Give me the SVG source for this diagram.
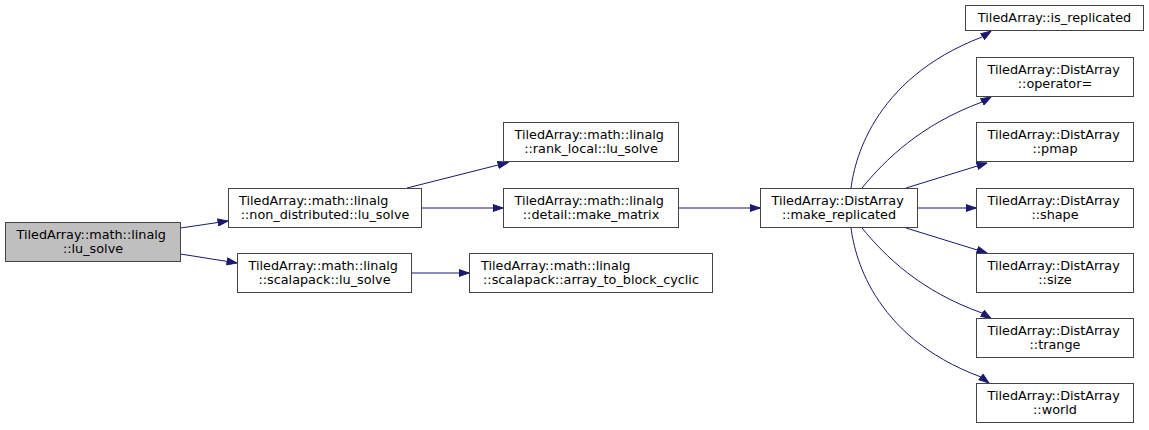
<svg xmlns="http://www.w3.org/2000/svg" width="1149" height="430" viewBox="0 0 1149 430">
<defs>
<style>
.n rect{fill:#ffffff;stroke:#444444;stroke-width:1}
.n.root rect{fill:#bfbfbf}
.n text{font-family:"DejaVu Sans",sans-serif;font-size:12.8px;fill:#000000;text-anchor:middle}
.n text.l1{text-anchor:start}
.e path{fill:none;stroke:#191970;stroke-width:1;marker-end:url(#ah)}
</style>
<marker id="ah" markerUnits="userSpaceOnUse" markerWidth="11" markerHeight="8" viewBox="0 0 11 8" refX="10.5" refY="4" orient="auto">
<path d="M0.5,0.5 L10.5,4 L0.5,7.5 z" fill="#191970" stroke="#191970" stroke-width="1"/>
</marker>
</defs>
<rect width="1149" height="430" fill="#ffffff"/>
<g id="edges" class="e">
<path d="M180.5,228 L228,221"/>
<path d="M180.5,254 L237,263"/>
<path d="M407,188 L508,162.5"/>
<path d="M421.5,208 L503,208"/>
<path d="M411.5,273 L469,273"/>
<path d="M678.5,208 L760,208"/>
<path d="M917.5,208 L976,208"/>
<path d="M906,188 L987,163"/>
<path d="M906,228 L987,253"/>
<path d="M851,188 C854,165 870,80 982,37 L991,31"/>
<path d="M862,188 C885,160 920,125 982,102 L991,97"/>
<path d="M862,228 C885,256 920,291 982,313 L991,318.5"/>
<path d="M851,228 C854,251 870,336 981,377 L989,383"/>
</g>
<g id="lu_solve" class="n root"><rect x="5.5" y="222.5" width="175" height="39"/><text class="l1" x="16.5" y="239">TiledArray::math::linalg</text><text x="93" y="252.5">::lu_solve</text></g>
<g id="nd_lu_solve" class="n"><rect x="228.5" y="188.5" width="193" height="39"/><text class="l1" x="239" y="205">TiledArray::math::linalg</text><text x="325" y="218.5">::non_distributed::lu_solve</text></g>
<g id="sp_lu_solve" class="n"><rect x="237.5" y="253.5" width="174" height="39"/><text class="l1" x="248.5" y="270">TiledArray::math::linalg</text><text x="324.5" y="283.5">::scalapack::lu_solve</text></g>
<g id="rank_local_lu_solve" class="n"><rect x="503.5" y="122.5" width="175" height="39"/><text class="l1" x="514.5" y="139">TiledArray::math::linalg</text><text x="591" y="152.5">::rank_local::lu_solve</text></g>
<g id="make_matrix" class="n"><rect x="503.5" y="188.5" width="175" height="39"/><text class="l1" x="514.5" y="205">TiledArray::math::linalg</text><text x="591" y="218.5">::detail::make_matrix</text></g>
<g id="array_to_block_cyclic" class="n"><rect x="469.5" y="253.5" width="243" height="39"/><text class="l1" x="481" y="270">TiledArray::math::linalg</text><text x="591" y="283.5">::scalapack::array_to_block_cyclic</text></g>
<g id="make_replicated" class="n"><rect x="760.5" y="188.5" width="157" height="39"/><text class="l1" x="771.5" y="205">TiledArray::DistArray</text><text x="839" y="218.5">::make_replicated</text></g>
<g id="is_replicated" class="n"><rect x="965.5" y="5.5" width="178" height="25"/><text x="1054.5" y="22">TiledArray::is_replicated</text></g>
<g id="operator_assign" class="n"><rect x="976.5" y="57.5" width="157" height="39"/><text class="l1" x="987.5" y="74">TiledArray::DistArray</text><text x="1055" y="87.5">::operator=</text></g>
<g id="pmap" class="n"><rect x="976.5" y="122.5" width="157" height="39"/><text class="l1" x="987.5" y="139">TiledArray::DistArray</text><text x="1055" y="152.5">::pmap</text></g>
<g id="shape" class="n"><rect x="976.5" y="188.5" width="157" height="39"/><text class="l1" x="987.5" y="205">TiledArray::DistArray</text><text x="1055" y="218.5">::shape</text></g>
<g id="size" class="n"><rect x="976.5" y="253.5" width="157" height="39"/><text class="l1" x="987.5" y="270">TiledArray::DistArray</text><text x="1055" y="283.5">::size</text></g>
<g id="trange" class="n"><rect x="976.5" y="318.5" width="157" height="39"/><text class="l1" x="987.5" y="335">TiledArray::DistArray</text><text x="1055" y="348.5">::trange</text></g>
<g id="world" class="n"><rect x="976.5" y="383.5" width="157" height="39"/><text class="l1" x="987.5" y="400">TiledArray::DistArray</text><text x="1055" y="413.5">::world</text></g>
</svg>
